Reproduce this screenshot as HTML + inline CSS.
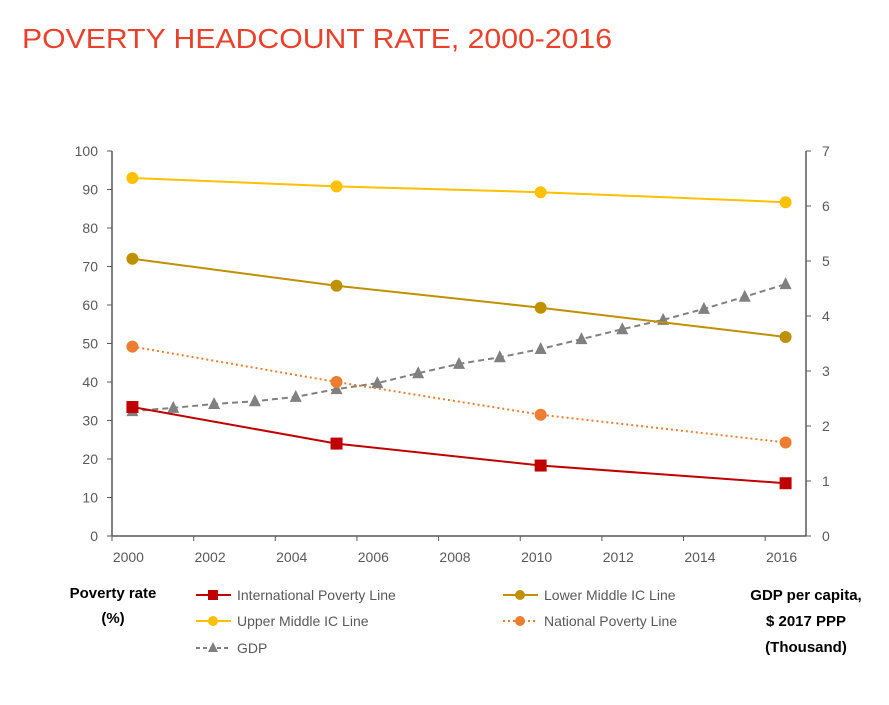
<!DOCTYPE html>
<html><head><meta charset="utf-8"><style>
body{margin:0;background:#fff;font-family:"Liberation Sans",sans-serif}
</style></head><body>
<svg width="889" height="700" xmlns="http://www.w3.org/2000/svg" id="chart">
<text x="22" y="48" font-size="28" fill="#e8412c" font-family="Liberation Sans, sans-serif" textLength="590" lengthAdjust="spacingAndGlyphs">POVERTY HEADCOUNT RATE, 2000-2016</text>
</svg>
<script>
const years=[2000,2001,2002,2003,2004,2005,2006,2007,2008,2009,2010,2011,2012,2013,2014,2015,2016];
const povYears=[2000,2005,2010,2016];
const intl=[33.5,24,18.3,13.7];
const lower=[72,65,59.3,51.7];
const upper=[93,90.8,89.3,86.7];
const national=[49.2,40,31.5,24.3];
const gdp=[2.27,2.33,2.4,2.45,2.53,2.67,2.78,2.96,3.13,3.25,3.4,3.58,3.76,3.93,4.13,4.35,4.58];
const leftTicks=[0,10,20,30,40,50,60,70,80,90,100];
const rightTicks=[0,1,2,3,4,5,6,7];
const xLabels=[2000,2002,2004,2006,2008,2010,2012,2014,2016];
const NS="http://www.w3.org/2000/svg",svg=document.getElementById('chart');
const X0=112,X1=806,Y0=536,Y1=151,step=(X1-X0)/17;
const x=yr=>X0+(yr-2000+0.5)*step, yL=v=>Y0-(v/100)*(Y0-Y1), yR=v=>Y0-(v/7)*(Y0-Y1);
function mk(t,a,p){const e=document.createElementNS(NS,t);for(const k in a)e.setAttribute(k,a[k]);(p||svg).appendChild(e);return e;}
let e;
e=mk('line',{x1:X0,y1:Y1,x2:X0,y2:Y0,stroke:'#595959','stroke-width':1.5});

e=mk('line',{x1:X1,y1:Y1,x2:X1,y2:Y0,stroke:'#595959','stroke-width':1.5});

e=mk('line',{x1:X0,y1:Y0,x2:X1,y2:Y0,stroke:'#595959','stroke-width':1.5});

leftTicks.forEach(v=>{mk('line',{x1:X0-5,y1:yL(v),x2:X0,y2:yL(v),stroke:'#595959'});
e=mk('text',{x:X0-14,y:yL(v)+5,'text-anchor':'end','font-size':14,fill:'#595959'});e.textContent=v;
});
rightTicks.forEach(v=>{mk('line',{x1:X1,y1:yR(v),x2:X1+5,y2:yR(v),stroke:'#595959'});
e=mk('text',{x:X1+16,y:yR(v)+5,'font-size':14,fill:'#595959'});e.textContent=v;
});
xLabels.forEach(v=>{const tx=X0+(v-2000)*step;mk('line',{x1:tx,y1:Y0,x2:tx,y2:Y0+5,stroke:'#595959'});
e=mk('text',{x:x(v)-4,y:Y0+26,'text-anchor':'middle','font-size':14,fill:'#595959'});e.textContent=v;
});
function series(name,xs,ys,color,dash,width,marker){
 const g=mk('g',{});
 const pts=xs.map((a,i)=>x(a)+','+ys[i]).join(' ');
 const l=mk('polyline',{points:pts,fill:'none',stroke:color,'stroke-width':width,'stroke-dasharray':dash},g);
 
 xs.forEach((a,i)=>{const px=x(a),py=ys[i];let m;
  if(marker=='sq')m=mk('rect',{x:px-6,y:py-6,width:12,height:12,fill:color},g);
  else if(marker=='ci')m=mk('circle',{cx:px,cy:py,r:6,fill:color},g);
  else m=mk('polygon',{points:`${px},${py-7} ${px+6},${py+5} ${px-6},${py+5}`,fill:color},g);
  });
}
series('gdp',years,gdp.map(yR),'#808080','6,4',2,'tr');
series('upper-middle',povYears,upper.map(yL),'#ffc000','none',2,'ci');
series('lower-middle',povYears,lower.map(yL),'#bf9000','none',2,'ci');
series('national',povYears,national.map(yL),'#ed7d31','2,3',2,'ci');
series('international',povYears,intl.map(yL),'#c00000','none',2,'sq');
function leg(lx,ly,label,color,dash,marker,name){
 const g=mk('g',{});
 mk('line',{x1:lx,y1:ly,x2:lx+35,y2:ly,stroke:color,'stroke-width':2,'stroke-dasharray':dash},g);
 const c=lx+17;
 if(marker=='sq')mk('rect',{x:c-5,y:ly-5,width:10,height:10,fill:color},g);
 else if(marker=='ci')mk('circle',{cx:c,cy:ly,r:5,fill:color},g);
 else mk('polygon',{points:`${c},${ly-6} ${c+5},${ly+4} ${c-5},${ly+4}`,fill:color},g);
 const t=mk('text',{x:lx+41,y:ly+5,'font-size':14,fill:'#595959'},g);t.textContent=label;
}
leg(196,595,'International Poverty Line','#c00000','none','sq','international');
leg(503,595,'Lower Middle IC Line','#bf9000','none','ci','lower-middle');
leg(196,621,'Upper Middle IC Line','#ffc000','none','ci','upper-middle');
leg(503,621,'National Poverty Line','#ed7d31','2,3','ci','national');
leg(196,648,'GDP','#808080','4,3','tr','gdp');
[['Poverty rate',598],['(%)',623]].forEach(([s,yy])=>{e=mk('text',{x:113,y:yy,'text-anchor':'middle','font-size':15,'font-weight':'bold',fill:'#000'});e.textContent=s;
});
[['GDP per capita,',600],['$ 2017 PPP',626],['(Thousand)',652]].forEach(([s,yy])=>{e=mk('text',{x:806,y:yy,'text-anchor':'middle','font-size':15,'font-weight':'bold',fill:'#000'});e.textContent=s;
});
</script>
</body></html>
